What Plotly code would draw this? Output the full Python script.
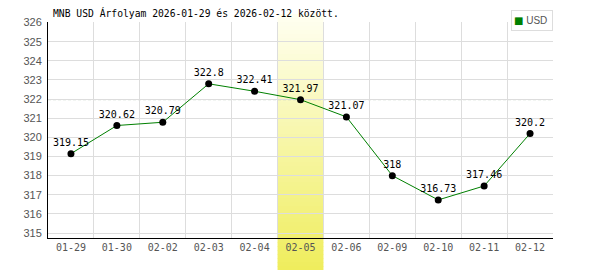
import plotly.graph_objects as go

title_text = "MNB USD Árfolyam 2026-01-29 és 2026-02-12 között."
dates = ["01-29", "01-30", "02-02", "02-03", "02-04", "02-05",
         "02-06", "02-09", "02-10", "02-11", "02-12"]
usd = [319.15, 320.62, 320.79, 322.8, 322.41, 321.97,
       321.07, 318, 316.73, 317.46, 320.2]
series_name = "USD"
highlight_idx = 5
y_ticks = list(range(315, 327))

W, H = 600, 270
ml, mr, mt, mb = 48, 47, 22, 32
plot_h = H - mt - mb

fig = go.Figure()

fig.add_trace(go.Scatter(
    x=dates, y=usd, mode="lines+markers+text", name=series_name,
    text=[f"{v:g}" for v in usd], textposition="top center",
    textfont=dict(family="DejaVu Sans Mono", size=10, color="#000"),
    line=dict(color="#008000", width=1),
    marker=dict(color="#000", size=7),
    showlegend=False, cliponaxis=False,
))

# gradient highlight band
top_px, bot_px = 14, 270
n = 64
c0 = (255, 255, 242)
c1 = (239, 237, 92)
for i in range(n):
    f = (i + 0.5) / n
    col = tuple(round(c0[k] + (c1[k] - c0[k]) * f) for k in range(3))
    ya = top_px + (bot_px - top_px) * i / n
    yb = top_px + (bot_px - top_px) * (i + 1) / n + 0.6
    fig.add_shape(type="rect", xref="x", yref="paper",
                  x0=highlight_idx - 0.5, x1=highlight_idx + 0.5,
                  y0=(H - mb - ya) / plot_h, y1=(H - mb - yb) / plot_h,
                  fillcolor="rgb(%d,%d,%d)" % col, line=dict(width=0),
                  layer="between")

fig.add_shape(type="line", xref="paper", yref="y", x0=0, x1=1,
              y0=usd[highlight_idx], y1=usd[highlight_idx],
              line=dict(color="#b4c4b4", width=1, dash="3px,2px"),
              layer="between")

# compact legend box
fig.add_annotation(
    xref="paper", yref="paper", x=1, xanchor="right",
    y=(H - mb - 10) / plot_h, yanchor="top", showarrow=False,
    text="<span style='color:#008000;font-family:DejaVu Sans'>■</span> " + series_name,
    font=dict(family="Liberation Sans", size=10, color="#555"),
    bgcolor="white", bordercolor="#dddddd", borderwidth=1, borderpad=2,
    width=36, height=15, align="left", valign="middle",
)

fig.update_layout(
    width=W, height=H,
    margin=dict(l=ml, r=mr, t=mt, b=mb),
    paper_bgcolor="white", plot_bgcolor="white",
    showlegend=False,
    title=dict(text=title_text, x=53 / W, xanchor="left",
               y=1 - 14 / H, yanchor="middle",
               font=dict(family="DejaVu Sans Mono", size=9.7, color="#000")),
    xaxis=dict(type="category", range=[-0.5, len(dates) - 0.5],
               tickson="boundaries", showgrid=True, gridcolor="#dddddd",
               gridwidth=1, showline=True, linecolor="#000", linewidth=1,
               ticks="outside", ticklen=3, tickcolor="rgba(0,0,0,0)",
               tickfont=dict(family="DejaVu Sans Mono", size=10, color="#555"),
               fixedrange=True),
    yaxis=dict(range=[314.74, 326.03], tickvals=y_ticks,
               showgrid=True, gridcolor="#dddddd", gridwidth=1,
               zeroline=False, showline=True, linecolor="#000", linewidth=1,
               ticks="outside", ticklen=3, tickcolor="rgba(0,0,0,0)",
               tickfont=dict(family="Liberation Sans", size=11, color="#555"),
               fixedrange=True),
)

fig.write_html("out.html")
